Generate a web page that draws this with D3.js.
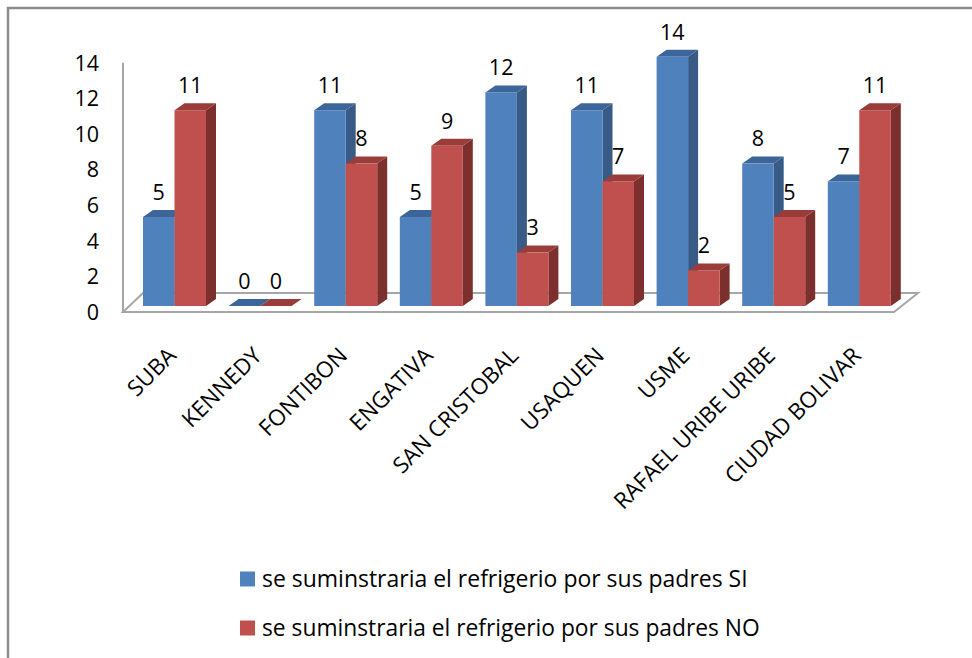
<!DOCTYPE html>
<html><head><meta charset="utf-8">
<script src="https://cdn.jsdelivr.net/npm/d3@7"></script>
<style>html,body{margin:0;padding:0;background:#fff;overflow:hidden}</style>
</head><body>
<svg id="chart" width="972" height="658"></svg>
<script>
const categories = ["SUBA","KENNEDY","FONTIBON","ENGATIVA","SAN CRISTOBAL","USAQUEN","USME","RAFAEL URIBE URIBE","CIUDAD BOLIVAR"];
const seriesNames = ["se suminstraria el refrigerio por sus padres SI","se suminstraria el refrigerio por sus padres NO"];
const valuesSI = [5,0,11,5,12,11,14,8,7];
const valuesNO = [11,0,8,9,3,7,2,5,11];
const tickValues = [0,2,4,6,8,10,12,14];

const FONT = "'Open Sans', 'Liberation Sans', sans-serif";
const colors = [
  {front:"#4F81BD", top:"#3C659A", side:"#375B86"},
  {front:"#C0504D", top:"#9A3C3A", side:"#7C302E"}
];
const svg = d3.select("#chart");

// frame
svg.append("rect").attr("x",8).attr("y",8).attr("width",1000).attr("height",700)
  .attr("fill","#fff").attr("stroke","#8c8c8c").attr("stroke-width",2.5);

// geometry
const baseY = 306, unit = 17.8;
const y = d3.scaleLinear().domain([0,14]).range([baseY, baseY-14*unit]);
const yTick = d3.scaleLinear().domain([0,14]).range([312, 312-14*unit]);
const x = d3.scaleBand().domain(categories).range([131.7, 902.1]).paddingInner(0.264).paddingOuter(0.132);
const xs = d3.scaleBand().domain([0,1]).range([0, x.bandwidth()]);
const dx = 10, dy = -7;          // bar depth
const fdx = 22, fdy = -19;       // floor depth

// floor
const fl = 123, fr = 894, ff = 312;
svg.append("path")
  .attr("d", `M${fl},${ff} L${fr},${ff} L${fr+fdx+2},${ff+fdy} L${fl+fdx-2},${ff+fdy} Z`)
  .attr("fill","#fff").attr("stroke","#a6a6a6").attr("stroke-width",2);
// vertical axis line
svg.append("line").attr("x1",fl).attr("x2",fl).attr("y1",yTick(14)).attr("y2",ff)
  .attr("stroke","#a6a6a6").attr("stroke-width",2);

// tick labels
svg.append("g").selectAll("text").data(tickValues).join("text")
  .attr("x",99).attr("y",d=>yTick(d)).attr("dy","0.36em")
  .attr("text-anchor","end").attr("font-family",FONT).attr("font-size",21.5).attr("fill","#000")
  .text(d=>d);

// bars
const data = [];
categories.forEach((c,i)=>{ data.push({c, s:0, v:valuesSI[i]}); data.push({c, s:1, v:valuesNO[i]}); });
const bars = svg.append("g").selectAll("g").data(data).join("g");
bars.each(function(d){
  const g = d3.select(this);
  const x0 = x(d.c) + xs(d.s), w = xs.bandwidth();
  const yt = y(d.v), yb = y(0);
  const col = colors[d.s];
  g.append("path").attr("d",`M${x0+w},${yt} L${x0+w+dx},${yt+dy} L${x0+w+dx},${yb+dy} L${x0+w},${yb} Z`).attr("fill",col.side);
  g.append("path").attr("d",`M${x0},${yt} L${x0+dx},${yt+dy} L${x0+w+dx},${yt+dy} L${x0+w},${yt} Z`).attr("fill",col.top);
  if (yb-yt>0) g.append("rect").attr("x",x0).attr("y",yt).attr("width",w).attr("height",yb-yt).attr("fill",col.front);
  g.append("text").attr("x",x0+w/2).attr("y",yt-25).attr("dy","0.36em")
    .attr("text-anchor","middle").attr("font-family",FONT).attr("font-size",21.5).attr("fill","#000").text(d.v);
});

// category labels
svg.append("g").selectAll("text").data(categories).join("text")
  .attr("transform",d=>`translate(${x(d)+x.bandwidth()/2+3},${357}) rotate(-45)`)
  .attr("text-anchor","end").attr("font-family",FONT).attr("font-size",22.5).attr("fill","#000")
  .text(d=>d);

// legend
const legY = [579, 628];
const targetW = [486, 498];
seriesNames.forEach((n,i)=>{
  svg.append("rect").attr("x",240).attr("y",legY[i]-7.5).attr("width",15).attr("height",15).attr("fill",colors[i].front);
  const t = svg.append("text").attr("x",262).attr("y",legY[i]).attr("dy","0.36em")
    .attr("font-family",FONT).attr("font-size",20).attr("fill","#000").text(n);
  const L = t.node().getComputedTextLength();
  t.attr("font-size", 20*targetW[i]/L);
});
</script>
</body></html>
